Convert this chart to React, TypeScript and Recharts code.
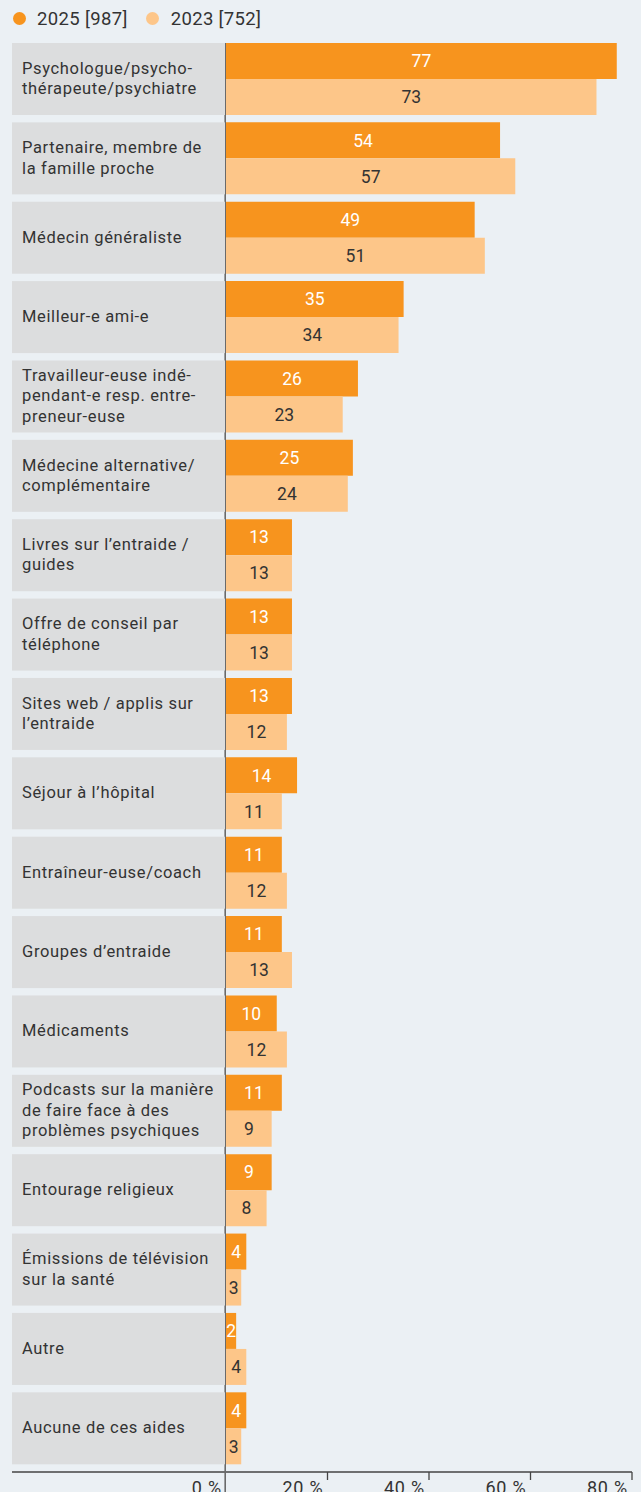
import React from 'react';
import { BarChart, Bar, XAxis, YAxis, LabelList } from 'recharts';

const categories: string[] = [
  'Psychologue/psycho-\nthérapeute/psychiatre',
  'Partenaire, membre de\nla famille proche',
  'Médecin généraliste',
  'Meilleur-e ami-e',
  'Travailleur-euse indé-\npendant-e resp. entre-\npreneur-euse',
  'Médecine alternative/\ncomplémentaire',
  'Livres sur l’entraide /\nguides',
  'Offre de conseil par\ntéléphone',
  'Sites web / applis sur\nl’entraide',
  'Séjour à l’hôpital',
  'Entraîneur-euse/coach',
  'Groupes d’entraide',
  'Médicaments',
  'Podcasts sur la manière\nde faire face à des\nproblèmes psychiques',
  'Entourage religieux',
  'Émissions de télévision\nsur la santé',
  'Autre',
  'Aucune de ces aides',
];
const values2025: number[] = [77, 54, 49, 35, 26, 25, 13, 13, 13, 14, 11, 11, 10, 11, 9, 4, 2, 4];
const values2023: number[] = [73, 57, 51, 34, 23, 24, 13, 13, 12, 11, 12, 13, 12, 9, 8, 3, 4, 3];
const xTicks: number[] = [0, 20, 40, 60, 80];
const seriesNames: string[] = ['2025 [987]', '2023 [752]'];

const COLOR_2025 = '#f7941e';
const COLOR_2023 = '#fdc689';
const BG = '#ebf0f4';
const BOX = '#dcddde';
const TEXT = '#333333';
const FONT = 'Roboto, sans-serif';

const data = categories.map((name, i) => ({ name, v2025: values2025[i], v2023: values2023[i] }));

const CategoryTick = (props: any) => {
  const { y, payload } = props;
  const lines = String(payload.value).split('\n');
  const lh = 20.5;
  const startY = y - ((lines.length - 1) * lh) / 2;
  return (
    <g>
      <rect x={12} y={y - 36} width={213} height={72} fill={BOX} />
      <text x={22} y={startY} fill={TEXT} fontSize={16.5} fontFamily={FONT} letterSpacing={0.65}>
        {lines.map((l, i) => (
          <tspan key={i} x={22} y={startY + i * lh} dy="0.3em">
            {l}
          </tspan>
        ))}
      </text>
    </g>
  );
};

const PercentTick = (props: any) => {
  const { x, y, payload } = props;
  const axisY = y - 8;
  const v = payload.value;
  return (
    <g>
      {v === 0 ? (
        <>
          <line x1={12} x2={x} y1={axisY} y2={axisY} stroke="#444" strokeWidth={1.3} />
          <line x1={x - 0.8} x2={x - 0.8} y1={43} y2={1492} stroke="#6a6a6a" strokeWidth={1.6} />
        </>
      ) : (
        <line x1={x} x2={x} y1={axisY} y2={axisY + 8} stroke="#444" strokeWidth={1.3} />
      )}
      <text x={x - 4} y={axisY + 22} textAnchor="end" fill={TEXT} fontSize={18} fontFamily={FONT} letterSpacing={0.8}>
        {`${v} %`}
      </text>
    </g>
  );
};

export default function App() {
  return (
    <div style={{ position: 'absolute', left: 0, top: 0, width: 641, height: 1492, background: BG, overflow: 'hidden' }}>
      <div style={{ position: 'absolute', left: 0, top: 0, height: 37, display: 'flex', alignItems: 'center', fontFamily: FONT, fontSize: 18.5, color: TEXT, letterSpacing: 0.35 }}>
        <span style={{ display: 'inline-block', width: 13, height: 13, borderRadius: '50%', background: COLOR_2025, marginLeft: 12.5, marginRight: 11.5 }} />
        <span>{seriesNames[0]}</span>
        <span style={{ display: 'inline-block', width: 13, height: 13, borderRadius: '50%', background: COLOR_2023, marginLeft: 18.5, marginRight: 11.5 }} />
        <span>{seriesNames[1]}</span>
      </div>
      <BarChart
        width={641}
        height={1492}
        data={data}
        layout="vertical"
        margin={{ top: 39.3, right: 9, bottom: 0, left: 12 }}
        barCategoryGap={3.68}
        barGap={0}
      >
        <XAxis
          type="number"
          domain={[0, 80]}
          ticks={xTicks}
          interval={0}
          height={20}
          axisLine={{ stroke: '#444', strokeWidth: 1.3 }}
          tickLine={false}
          tickSize={0}
          tickMargin={8}
          tick={<PercentTick />}
        />
        <YAxis
          type="category"
          dataKey="name"
          width={214}
          axisLine={false}
          tickLine={false}
          tick={<CategoryTick />}
          interval={0}
          padding={{ top: 0, bottom: 4 }}
        />
        <Bar dataKey="v2025" fill={COLOR_2025} isAnimationActive={false}>
          <LabelList dataKey="v2025" position="center" fill="#ffffff" fontSize={17.5} fontFamily={FONT} />
        </Bar>
        <Bar dataKey="v2023" fill={COLOR_2023} isAnimationActive={false}>
          <LabelList dataKey="v2023" position="center" fill={TEXT} fontSize={17.5} fontFamily={FONT} />
        </Bar>
      </BarChart>
    </div>
  );
}
